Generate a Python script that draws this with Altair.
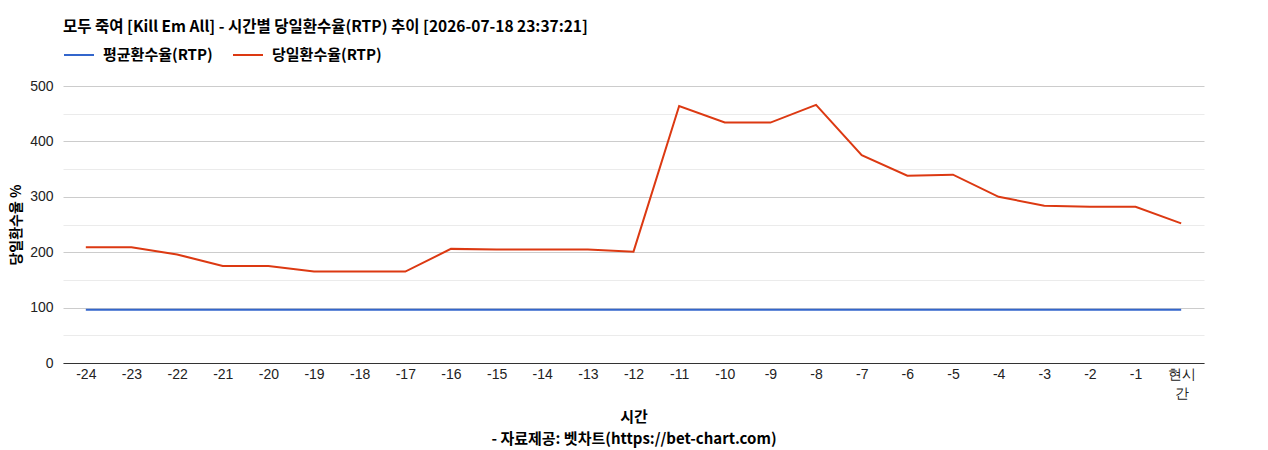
import altair as alt
import pandas as pd

hours = ["-24", "-23", "-22", "-21", "-20", "-19", "-18", "-17", "-16", "-15", "-14", "-13",
         "-12", "-11", "-10", "-9", "-8", "-7", "-6", "-5", "-4", "-3", "-2", "-1", "현시간"]
avg_rtp = [96] * 25
day_rtp = [209, 209, 196, 175, 175, 165, 165, 165, 206, 205, 205, 205,
           201, 464, 434, 434, 466, 375, 338, 340, 300, 284, 282, 282, 252]
series_names = ["평균환수율(RTP)", "당일환수율(RTP)"]
series_colors = ["#3366cc", "#dc3912"]

rows = []
for h, a, d in zip(hours, avg_rtp, day_rtp):
    rows.append({"시간": h, "series": series_names[0], "value": a})
    rows.append({"시간": h, "series": series_names[1], "value": d})
df = pd.DataFrame(rows)

KR = "Noto Sans CJK KR"
AR = "Liberation Sans"

chart = alt.Chart(df).mark_line(strokeWidth=2).encode(
    x=alt.X("시간:O", sort=hours,
            scale=alt.Scale(padding=0.5),
            axis=alt.Axis(
                title=["시간", "- 자료제공: 벳차트(https://bet-chart.com)"],
                titleFont=KR, titleFontSize=15, titleFontWeight="bold", titleColor="#000",
                titleLineHeight=22, titlePadding=9,
                labelAngle=0, labelFont=AR, labelFontSize=14, labelColor="#222",
                labelExpr="datum.label == '현시간' ? ['현시', '간'] : datum.label",
                labelLineHeight=19, labelPadding=4,
                ticks=False, domainColor="#333", domainWidth=1, grid=False)),
    y=alt.Y("value:Q", scale=alt.Scale(domain=[0, 500], nice=False),
            axis=alt.Axis(
                title="당일환수율 %", titleFont=KR, titleFontSize=14, titleFontWeight="bold",
                titleColor="#000", titlePadding=6,
                values=[0, 50, 100, 150, 200, 250, 300, 350, 400, 450, 500],
                labelExpr="datum.value % 100 == 0 ? datum.label : ''",
                labelFont=AR, labelFontSize=14, labelColor="#222", labelPadding=10,
                ticks=False, domain=False,
                gridColor={"condition": {"test": "datum.value % 100 == 0", "value": "#cccccc"},
                           "value": "#ebebeb"})),
    color=alt.Color("series:N",
                    scale=alt.Scale(domain=series_names, range=series_colors),
                    legend=alt.Legend(title=None, orient="none", legendX=0, legendY=-47,
                                      direction="horizontal", symbolType="stroke",
                                      symbolSize=900, symbolStrokeWidth=2,
                                      labelFont=KR, labelFontSize=15, labelFontWeight="bold",
                                      labelColor="#000", columnPadding=16, labelOffset=8)),
).properties(
    width=1141, height=277,
    title=alt.TitleParams(
        "모두 죽여 [Kill Em All] - 시간별 당일환수율(RTP) 추이 [2026-07-18 23:37:21]",
        anchor="start", frame="group", font=KR, fontSize=15.5, fontWeight="bold",
        color="#000", offset=4),
    autosize=alt.AutoSizeParams(type="none"),
    padding={"left": 63, "top": 86, "right": 64, "bottom": 87},
    background="white",
).configure_view(stroke=None)

chart.save("out.html", embed_options={"renderer": "svg", "actions": False})
